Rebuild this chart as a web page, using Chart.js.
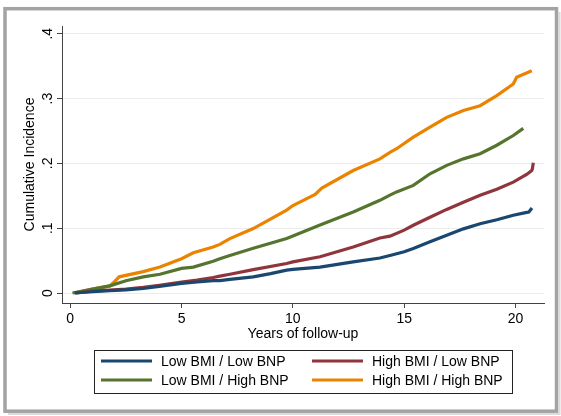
<!DOCTYPE html>
<html>
<head>
<meta charset="utf-8">
<script src="https://cdn.jsdelivr.net/npm/chart.js@4.4.1/dist/chart.umd.min.js"></script>
<style>
  body { margin: 0; background: #fff; }
  canvas { display: block; }
</style>
</head>
<body>
<canvas id="ciChart" width="561" height="416"></canvas>
<script>
// cumulative incidence curves (years, proportion)
const seriesLabels = ['Low BMI / Low BNP', 'High BMI / Low BNP', 'Low BMI / High BNP', 'High BMI / High BNP'];
const seriesColors = ['#1a476f', '#90353b', '#55752f', '#e98300'];

const lowLowYears = [0.2, 1.0, 1.78, 2.5, 3.28, 4.0, 5.0, 5.7, 6.42, 6.72, 7.17, 8.22, 9.0, 9.72, 10.0, 11.22, 12.71, 13.91, 14.36, 15.0, 15.41, 16.16, 16.91, 17.66, 18.41, 19.16, 19.9, 20.45, 20.6, 20.74];
const lowLowCI = [0, 0.002, 0.0036, 0.005, 0.007, 0.010, 0.015, 0.017, 0.019, 0.019, 0.021, 0.025, 0.030, 0.0354, 0.0364, 0.040, 0.048, 0.054, 0.058, 0.0636, 0.0687, 0.079, 0.089, 0.099, 0.107, 0.113, 0.120, 0.124, 0.125, 0.131];

const highLowYears = [0.25, 1.0, 1.78, 2.5, 3.28, 4.0, 5.0, 5.7, 6.42, 6.72, 7.17, 8.22, 9.72, 10.0, 11.22, 12.71, 13.91, 14.36, 15.0, 15.41, 16.16, 16.91, 17.66, 18.41, 19.16, 19.9, 20.5, 20.73, 20.76, 20.8];
const highLowCI = [0, 0.003, 0.0046, 0.006, 0.0087, 0.012, 0.017, 0.020, 0.024, 0.026, 0.029, 0.036, 0.0456, 0.048, 0.056, 0.071, 0.085, 0.0877, 0.097, 0.1046, 0.117, 0.129, 0.140, 0.151, 0.160, 0.171, 0.183, 0.189, 0.192, 0.201];

const lowHighYears = [0.1, 1.0, 1.78, 2.5, 3.28, 4.03, 5.0, 5.53, 6.42, 6.72, 7.17, 8.22, 9.72, 10.0, 11.22, 12.71, 13.91, 14.36, 14.66, 15.41, 16.16, 16.91, 17.66, 18.41, 19.16, 19.9, 20.35];
const lowHighCI = [0, 0.006, 0.011, 0.019, 0.025, 0.029, 0.038, 0.040, 0.049, 0.053, 0.058, 0.069, 0.084, 0.088, 0.105, 0.125, 0.143, 0.151, 0.156, 0.166, 0.184, 0.197, 0.207, 0.215, 0.228, 0.243, 0.254];

const highHighYears = [0.2, 1.0, 1.78, 2.0, 2.2, 3.28, 4.03, 5.0, 5.53, 6.42, 6.72, 7.17, 8.22, 9.72, 10.0, 11.0, 11.3, 12.71, 13.91, 14.36, 14.66, 15.41, 16.16, 16.91, 17.66, 18.41, 19.16, 19.9, 20.05, 20.73];
const highHighCI = [0, 0.006, 0.011, 0.018, 0.025, 0.033, 0.040, 0.053, 0.062, 0.071, 0.075, 0.084, 0.0995, 0.128, 0.135, 0.152, 0.162, 0.189, 0.207, 0.217, 0.2226, 0.2405, 0.256, 0.271, 0.2815, 0.289, 0.3046, 0.3226, 0.333, 0.343];

const xTickValues = [0, 5, 10, 15, 20];
const yTickValues = [0, 0.1, 0.2, 0.3, 0.4];

function toPoints(xs, ys) {
    return xs.map((x, i) => ({x: x, y: ys[i]}));
}

const curves = [
    toPoints(lowLowYears, lowLowCI),
    toPoints(highLowYears, highLowCI),
    toPoints(lowHighYears, lowHighCI),
    toPoints(highHighYears, highHighCI)
];

const FONT = "'Liberation Sans', Arial, sans-serif";

// grey frame round the whole graph
const framePlugin = {
    id: 'frame',
    beforeDraw(chart) {
        let ctx = chart.ctx;
        ctx.save();
        ctx.fillStyle = '#fff';
        ctx.fillRect(0, 0, chart.width, chart.height);
        ctx.strokeStyle = '#dcdcdc';
        ctx.lineWidth = 2;
        ctx.beginPath();
        ctx.moveTo(8, 414);
        ctx.lineTo(559.5, 414);
        ctx.lineTo(559.5, 12);
        ctx.stroke();
        ctx.strokeStyle = '#a3a3a3';
        ctx.lineWidth = 3.5;
        ctx.strokeRect(5, 8.7, 551.5, 402.5);
        ctx.restore();
    }
};

// boxed legend in two columns below the axis title
const boxLegendPlugin = {
    id: 'boxLegend',
    afterDraw(chart) {
        let ctx = chart.ctx;
        let area = chart.chartArea;
        let mid = (area.left + area.right) / 2;
        let boxLeft = mid - 209, boxRight = mid + 209;
        let boxTop = 350, boxBottom = 393;
        ctx.save();
        ctx.strokeStyle = '#222';
        ctx.lineWidth = 1;
        ctx.strokeRect(boxLeft + 0.5, boxTop + 0.5, boxRight - boxLeft, boxBottom - boxTop);
        ctx.font = '14px ' + FONT;
        ctx.textBaseline = 'middle';
        ctx.fillStyle = '#000';
        chart.data.datasets.forEach((ds, i) => {
            let col = i % 2, row = Math.floor(i / 2);
            let x0 = boxLeft + 7 + col * 211;
            let y = boxTop + 11 + row * 19;
            ctx.strokeStyle = ds.borderColor;
            ctx.lineWidth = 3;
            ctx.beginPath();
            ctx.moveTo(x0, y);
            ctx.lineTo(x0 + 51, y);
            ctx.stroke();
            ctx.fillText(ds.label, x0 + 60, y + 1);
        });
        ctx.restore();
    }
};

const ctx = document.getElementById('ciChart').getContext('2d');
new Chart(ctx, {
    type: 'line',
    data: {
        datasets: curves.map((pts, i) => ({
            label: seriesLabels[i],
            data: pts,
            borderColor: seriesColors[i],
            backgroundColor: seriesColors[i],
            borderWidth: 3.2,
            pointRadius: 0,
            tension: 0,
            fill: false
        }))
    },
    options: {
        responsive: false,
        animation: false,
        layout: {padding: {left: 0, top: 26, right: 17, bottom: 73}},
        plugins: {
            legend: {display: false},
            tooltip: {enabled: false}
        },
        scales: {
            x: {
                type: 'linear',
                min: -0.37,
                max: 21.28,
                afterBuildTicks: s => { s.ticks = xTickValues.map(v => ({value: v})); },
                afterFit: s => { s.height = 40; },
                grid: {drawOnChartArea: false, tickLength: 5, tickColor: '#444'},
                border: {color: '#444', width: 1},
                ticks: {color: '#000', font: {family: FONT, size: 14}, padding: 3, maxRotation: 0},
                title: {
                    display: true,
                    text: 'Years of follow-up',
                    color: '#000',
                    font: {family: FONT, size: 14},
                    padding: {top: 0, bottom: 0}
                }
            },
            y: {
                type: 'linear',
                min: -0.0154,
                max: 0.412,
                afterBuildTicks: s => { s.ticks = yTickValues.map(v => ({value: v})); },
                afterFit: s => { s.width = 62; },
                grid: {color: '#ececec', lineWidth: 1, tickLength: 5, tickColor: '#444'},
                border: {color: '#444', width: 1},
                ticks: {
                    color: '#000',
                    font: {family: FONT, size: 14},
                    padding: 3,
                    minRotation: 90,
                    maxRotation: 90,
                    crossAlign: 'center',
                    callback: v => v === 0 ? '0' : v.toFixed(1).replace(/^0/, '')
                },
                title: {
                    display: true,
                    text: 'Cumulative Incidence',
                    color: '#000',
                    font: {family: FONT, size: 14},
                    padding: {top: 21.6, bottom: 0}
                }
            }
        }
    },
    plugins: [framePlugin, boxLegendPlugin]
});
</script>
</body>
</html>
